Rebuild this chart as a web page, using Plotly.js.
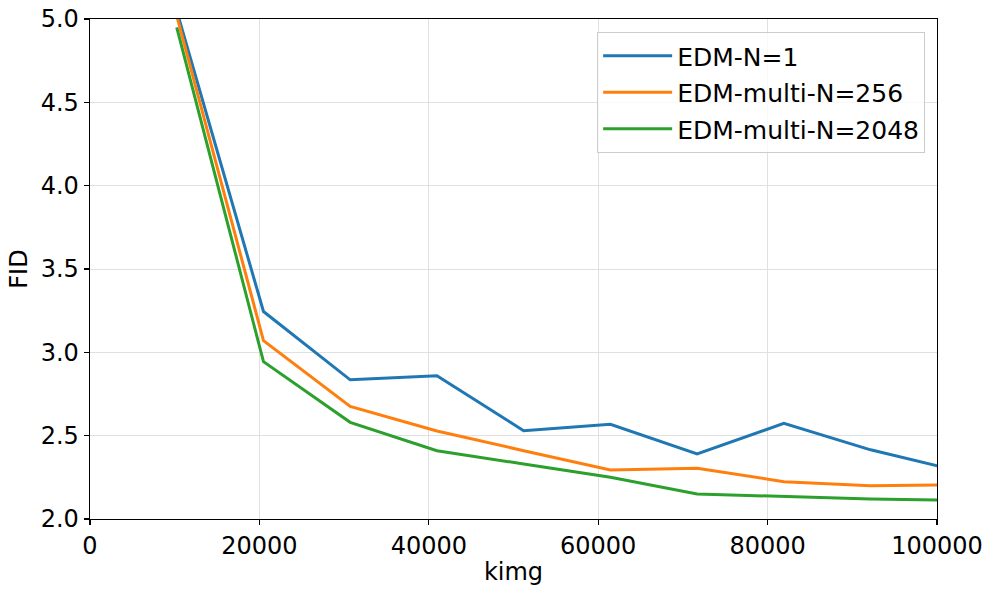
<!DOCTYPE html>
<html>
<head>
<meta charset="utf-8">
<script src="https://cdn.plot.ly/plotly-3.0.1.min.js"></script>
<style>html,body{margin:0;padding:0;background:#fff;}#chart{width:996px;height:594px;}</style>
</head>
<body>
<div id="chart"></div>
<script>
const kimg = [10240, 20480, 30720, 40960, 51200, 61440, 71680, 81920, 92160, 102400];
const fidN1 = [5.05, 3.245, 2.835, 2.86, 2.53, 2.568, 2.39, 2.574, 2.415, 2.29];
const fidMulti256 = [5.02, 3.07, 2.675, 2.528, 2.41, 2.294, 2.305, 2.224, 2.20, 2.205];
const fidMulti2048 = [4.95, 2.944, 2.58, 2.41, 2.33, 2.25, 2.15, 2.135, 2.12, 2.113];
const seriesNames = ["EDM-N=1", "EDM-multi-N=256", "EDM-multi-N=2048"];
const colors = ["#1f77b4", "#ff7f0e", "#2ca02c"];
const seriesValues = [fidN1, fidMulti256, fidMulti2048];

const traces = seriesValues.map((ys, i) => ({
  x: kimg, y: ys, type: "scatter", mode: "lines", name: seriesNames[i],
  legendgroup: "g" + i,
  line: {color: colors[i], width: 3}
}));

const font = {family: "DejaVu Sans, sans-serif", size: 24, color: "#000"};
const layout = {
  width: 996, height: 594,
  margin: {l: 90, r: 59, t: 19, b: 75, pad: 0},
  paper_bgcolor: "#fff", plot_bgcolor: "#fff",
  font: font,
  showlegend: true,
  legend: {
    x: 0.986, y: 0.974, xanchor: "right", yanchor: "top",
    bgcolor: "rgba(255,255,255,0.8)", bordercolor: "#cccccc", borderwidth: 1,
    font: {family: "DejaVu Sans, sans-serif", size: 25, color: "#000"},
    tracegroupgap: 1, itemwidth: 69
  },
  xaxis: {
    range: [0, 100000], tickvals: [0, 20000, 40000, 60000, 80000, 100000],
    ticktext: ["0", "20000", "40000", "60000", "80000", "100000"],
    showgrid: true, gridcolor: "#e0e0e0", gridwidth: 1,
    showline: true, linecolor: "#000", linewidth: 1.3, mirror: true,
    ticks: "outside", ticklen: 5, tickwidth: 1.2, tickcolor: "#000",
    zeroline: false,
    title: {text: "kimg", font: font, standoff: 4},
    tickfont: font
  },
  yaxis: {
    range: [2.0, 5.0], tickvals: [2.0, 2.5, 3.0, 3.5, 4.0, 4.5, 5.0],
    ticktext: ["2.0", "2.5", "3.0", "3.5", "4.0", "4.5", "5.0"],
    showgrid: true, gridcolor: "#e0e0e0", gridwidth: 1,
    showline: true, linecolor: "#000", linewidth: 1.3, mirror: true,
    ticks: "outside", ticklen: 5, tickwidth: 1.2, tickcolor: "#000",
    zeroline: false,
    title: {text: "FID", font: font, standoff: 6},
    tickfont: font
  }
};
Plotly.newPlot("chart", traces, layout, {displayModeBar: false, staticPlot: true});
</script>
</body>
</html>
